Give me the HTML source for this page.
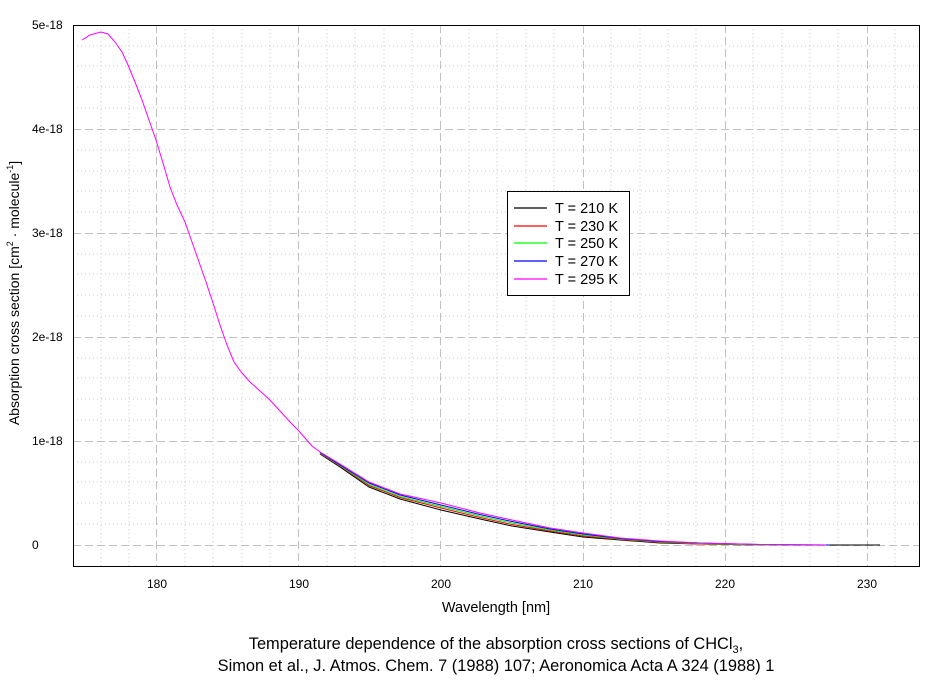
<!DOCTYPE html>
<html><head><style>
body{margin:0;background:#fff;}
svg text{font-family:"Liberation Sans",sans-serif;fill:#000;}
</style></head><body>
<svg width="944" height="680" viewBox="0 0 944 680" xmlns="http://www.w3.org/2000/svg">
<rect width="944" height="680" fill="#fff"/>
<g stroke="#c8c8c8" stroke-width="1" stroke-dasharray="1,3">
<path d="M101 25V566M129 25V566M185 25V566M213 25V566M242 25V566M270 25V566M327 25V566M355 25V566M384 25V566M412 25V566M469 25V566M497 25V566M526 25V566M554 25V566M611 25V566M640 25V566M668 25V566M696 25V566M753 25V566M782 25V566M810 25V566M838 25V566M895 25V566"/>
<path d="M73 46H920M73 66H920M73 87H920M73 108H920M73 150H920M73 171H920M73 191H920M73 212H920M73 254H920M73 274H920M73 295H920M73 316H920M73 358H920M73 378H920M73 399H920M73 420H920M73 462H920M73 482H920M73 503H920M73 524H920"/>
</g>
<g stroke="#c0c0c0" stroke-width="1" stroke-dasharray="8,4">
<path d="M156.5 25V566M298.5 25V566M440.5 25V566M583.5 25V566M725.5 25V566M867.5 25V566"/>
<path d="M73 129.5H920M73 233.5H920M73 337.5H920M73 441.5H920M73 545.5H920"/>
</g>
<rect x="73.5" y="25.5" width="846" height="541" fill="none" stroke="#000"/>
<g fill="none" stroke-width="1">
<polyline stroke="#000" points="320,454 340,467 369,487 400,499 441,510 480,519 512,526 550,532 583,537 620,540 660,543 700,544 760,545 880,545"/>
<polyline stroke="#f00" points="320,453.5 340,466 369,485.5 400,497.5 441,508 480,517.5 512,524.5 550,531 583,536 620,539.5 660,542.5 700,544 760,545 830,545"/>
<polyline stroke="#0f0" points="320,453 340,465.5 369,484.5 400,496.5 441,506.5 480,516 512,523 550,530 583,535 620,539 660,542 700,543.5 760,545 830,545"/>
<polyline stroke="#00f" points="320,452.5 340,465 369,483 400,495 441,505 480,514.5 512,521.5 550,529 583,534 620,538.5 660,541.5 700,543 760,544.5 830,545"/>
<polyline stroke="#f0f" points="82,40 90,35 101,32 108,34 115,42 122,52 128,65 135,82 142,100 149,120 156,140 163,163 170,187 177,205 185,222 192,242 199,262 206,282 213,303 220,325 227,345 234,362 242,373 250,382 260,391 270,400 280,411 290,422 298,430 305,438 312,446 320,452 340,464 369,482 400,494 441,503 480,513 512,520 550,528 583,533 620,538 660,541 700,543 760,544.5 826,545"/>
</g>
<g font-size="12">
<text x="32" y="29">5e-18</text>
<text x="32" y="133">4e-18</text>
<text x="32" y="237">3e-18</text>
<text x="32" y="341">2e-18</text>
<text x="32" y="445">1e-18</text>
<text x="32" y="549">0</text>
<g text-anchor="middle">
<text x="157" y="588">180</text><text x="299" y="588">190</text><text x="441" y="588">200</text>
<text x="583" y="588">210</text><text x="725" y="588">220</text><text x="867" y="588">230</text>
</g>
</g>
<text x="496" y="612" font-size="14.5" text-anchor="middle">Wavelength [nm]</text>
<text transform="translate(19,293) rotate(-90)" font-size="14" text-anchor="middle">Absorption cross section [cm<tspan font-size="9" dy="-6">2</tspan><tspan dy="6"> · molecule</tspan><tspan font-size="9" dy="-6">-1</tspan><tspan dy="6">]</tspan></text>
<rect x="507.5" y="191.5" width="122" height="104" fill="#fff" stroke="#000"/>
<g stroke-width="1.2">
<line x1="514" x2="547" y1="208" y2="208" stroke="#000"/>
<line x1="514" x2="547" y1="226" y2="226" stroke="#f00"/>
<line x1="514" x2="547" y1="243" y2="243" stroke="#0f0"/>
<line x1="514" x2="547" y1="261" y2="261" stroke="#00f"/>
<line x1="514" x2="547" y1="279" y2="279" stroke="#f0f"/>
</g>
<g font-size="14.5">
<text x="555" y="213">T = 210 K</text>
<text x="555" y="231">T = 230 K</text>
<text x="555" y="248">T = 250 K</text>
<text x="555" y="266">T = 270 K</text>
<text x="555" y="284">T = 295 K</text>
</g>
<g font-size="16.4" text-anchor="middle">
<text x="496" y="649">Temperature dependence of the absorption cross sections of CHCl<tspan font-size="11" dy="4">3</tspan><tspan dy="-4">,</tspan></text>
<text x="496" y="671">Simon et al., J. Atmos. Chem. 7 (1988) 107; Aeronomica Acta A 324 (1988) 1</text>
</g>
</svg>
</body></html>
